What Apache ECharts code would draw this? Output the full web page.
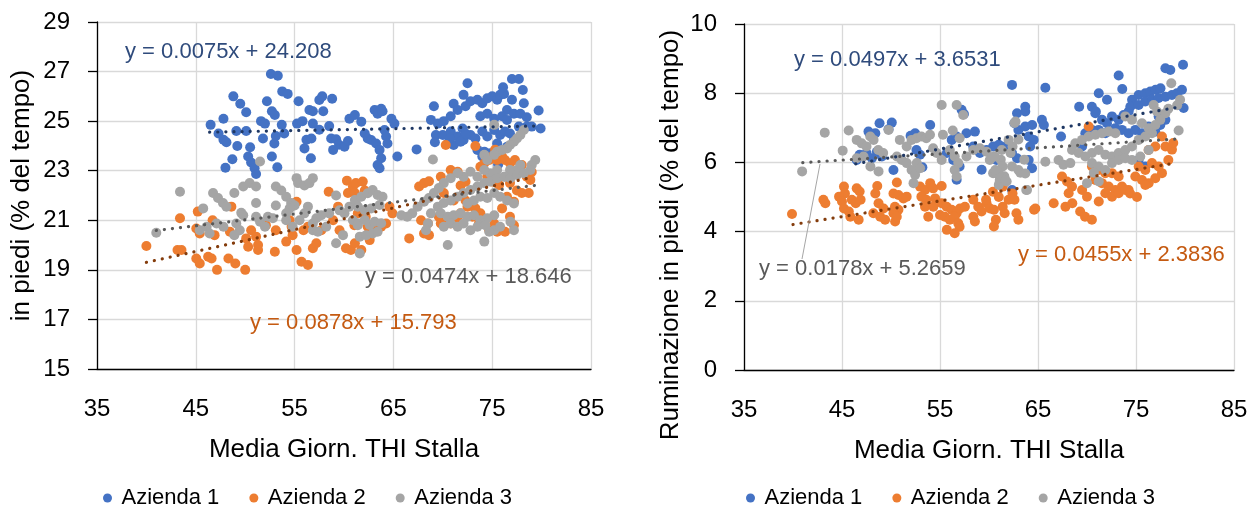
<!DOCTYPE html>
<html><head><meta charset="utf-8">
<script src="https://cdn.jsdelivr.net/npm/echarts@6/dist/echarts.min.js"></script>
<style>html,body{margin:0;padding:0;background:#fff}#c{width:1256px;height:515px}</style>
</head><body><div id="c"></div>
<script>
const seriesNames = ['Azienda 1', 'Azienda 2', 'Azienda 3'];
const xAxisTitle = 'Media Giorn. THI Stalla';
const yTitlePiedi = 'in piedi (% del tempo)';
const yTitleRum = 'Ruminazione in piedi (% del tempo)';

// ---- Left chart: in piedi (% del tempo) ----
const piediAz1 = [[52.6,26.9],[53.3,26.83],[48.8,26.0],[49.5,25.7],[50.1,25.36],[52.2,25.8],[53.75,26.2],[54.3,26.1],[55.4,25.8],[57.5,25.85],[57.8,26.0],[58.8,25.9],[56.5,25.45],[56.85,25.4],[57.9,25.4],[52.7,25.4],[53.0,25.25],[51.6,25.0],[52.0,24.9],[53.7,24.85],[55.25,24.9],[55.8,25.0],[56.85,24.9],[58.5,24.8],[60.55,25.1],[61.1,25.25],[46.5,24.85],[47.8,25.1],[49.1,24.6],[50.1,24.6],[47.8,24.25],[49.2,24.0],[50.5,23.95],[51.8,24.3],[52.95,24.1],[53.1,24.4],[53.95,24.5],[56.0,23.9],[56.2,24.25],[56.7,24.3],[57.5,24.65],[58.7,24.3],[59.2,24.27],[59.5,24.05],[60.05,23.97],[60.4,24.2],[58.9,23.84],[56.65,23.5],[48.7,23.46],[48.0,23.12],[50.3,23.57],[50.6,23.33],[50.95,23.1],[51.1,22.87],[52.7,23.57],[53.25,23.14],[47.3,24.5],[48.1,24.15],
[61.75,24.98],[63.1,25.45],[63.4,25.3],[63.76,25.5],[63.9,25.4],[64.8,25.1],[65.1,24.9],[62.1,24.5],[62.4,24.3],[62.75,24.24],[63.25,24.1],[63.6,23.84],[63.76,23.5],[63.4,23.23],[63.6,23.1],[64.1,24.64],[64.26,24.38],[64.4,24.1],[65.4,23.57],[67.35,23.86],[69.1,25.6],[71.1,25.7],[72.5,26.53],[72.1,26.06],[68.8,25.05],[69.5,24.9],[70.1,25.0],[70.8,25.2],[71.5,25.45],[72.3,25.6],[72.8,25.8],[73.5,25.86],[74.0,25.72],[74.5,25.92],[75.0,26.0],[75.5,25.86],[75.8,26.06],[76.2,26.1],[76.1,26.37],[77.0,26.7],[77.7,26.7],[78.1,26.26],[78.2,25.72],[79.7,25.43],[79.9,24.7],[77.0,25.86],[76.5,25.45],[77.2,25.3],[77.85,25.3],[78.5,25.16],
[69.3,24.44],[70.0,24.44],[70.8,24.58],[71.5,24.38],[72.1,24.24],[72.8,24.44],[73.3,24.3],[74.0,24.58],[74.5,24.38],[75.2,24.64],[75.8,24.44],[76.3,24.58],[76.8,24.5],[70.5,24.1],[71.1,24.04],[71.8,24.17],[73.5,23.84],[74.2,23.77],[74.8,23.7],[75.8,23.84],[75.5,24.1],[76.5,23.97],[74.0,23.57],[77.7,24.78],[78.5,24.78],[79.0,24.78],[72.0,24.7],[72.3,24.5],[77.2,24.24],[73.8,25.2],[74.5,25.3],[75.2,25.1],[76.0,25.2],[76.5,25.05],[69.2,24.15],[70.7,24.3],[75.6,23.25]];

const piediAz2 = [[40.0,19.96],[43.4,21.08],[43.15,19.8],[43.55,19.8],[45.2,21.35],[45.05,20.67],[45.4,20.47],[45.05,19.46],[45.4,19.26],[46.25,19.53],[46.6,19.46],[47.15,19.0],[46.9,20.4],[46.7,21.0],[48.3,19.46],[49.0,19.26],[50.0,19.0],[48.6,21.55],[48.45,20.54],[50.1,20.27],[50.3,19.93],[50.6,20.6],[51.1,20.34],[51.3,20.0],[52.1,20.8],[53.1,20.6],[51.3,19.8],[53.0,19.73],[54.5,21.0],[54.7,20.74],[54.15,20.14],[54.8,20.4],[55.2,19.8],[55.7,19.33],[56.35,19.2],[55.9,20.6],[56.35,20.74],[56.85,19.87],[57.2,20.07],[57.7,20.6],[55.2,21.75],[58.45,22.15],[60.3,22.6],[60.4,22.1],[58.9,21.0],[59.4,21.55],[59.55,20.6],[60.2,19.87],[60.7,19.8],[61.05,20.8],[60.9,22.36],
[70.3,24.04],[73.3,24.0],[67.6,22.36],[68.1,22.5],[68.6,22.57],[69.8,22.76],[70.8,23.03],[71.5,22.96],[70.1,22.1],[66.6,20.27],[67.8,21.0],[68.5,20.87],[68.1,20.47],[68.6,20.4],[69.6,21.14],[69.8,20.87],[70.5,20.94],[71.8,21.28],[72.5,21.55],[72.3,21.8],[71.1,21.8],[71.8,22.4],[72.3,22.55],[73.8,23.16],[74.2,23.3],[74.7,23.43],[75.0,23.57],[75.5,23.43],[76.0,23.57],[76.3,23.43],[76.8,23.3],[77.3,23.43],[78.0,23.23],[78.5,22.76],[78.86,22.63],[78.7,22.1],[79.0,22.95],[74.5,22.76],[75.0,22.56],[75.7,22.42],[76.8,22.5],[77.5,22.2],[78.0,22.1],[76.5,21.95],[77.2,21.75],[76.0,21.48],[76.8,21.14],[77.2,20.8],[76.3,20.54],[75.2,20.87],[74.7,20.6],[75.5,20.54],[73.8,21.28],[73.3,21.48],[73.0,21.14],[73.66,20.87],[70.8,20.87],[71.5,21.08],[75.3,23.85],
[61.2,22.5],[61.9,22.56],[61.1,22.1],[62.1,22.2],[61.4,21.28],[62.2,21.14],[62.4,20.74],[63.1,20.6],[63.76,20.74],[61.1,20.07],[61.75,19.8],[62.6,20.2],[64.26,20.87],[64.9,21.28],[64.6,21.55]];

const piediAz3 = [[41.0,20.5],[43.4,22.15],[45.75,21.48],[46.75,22.1],[47.25,21.9],[47.75,21.7],[48.1,21.55],[48.9,22.1],[49.8,22.36],[50.45,22.5],[51.1,22.36],[51.1,21.7],[49.6,21.3],[49.8,21.2],[49.1,20.87],[49.45,20.6],[48.9,20.4],[53.1,22.36],[53.65,22.2],[54.15,21.95],[54.65,21.7],[55.2,22.7],[55.35,22.5],[56.0,22.4],[56.5,22.5],[56.85,22.7],[55.0,21.6],[54.5,21.48],[53.1,21.6],[54.15,21.28],[52.3,21.14],[52.8,21.08],[51.1,21.14],[51.5,20.94],[52.0,20.74],[47.1,20.87],[47.8,20.74],[45.4,20.6],[46.1,20.74],[46.4,20.47],[55.5,21.0],[56.0,21.28],[56.35,21.55],[56.85,20.6],[57.35,20.54],[58.2,20.74],[59.2,22.0],[59.55,21.4],[60.05,21.28],[60.55,21.55],[61.2,21.7],[60.9,21.0],[61.4,20.8],[59.2,20.07],[54.8,20.74],[54.15,21.0],[51.5,23.37],[59.9,20.4],[56.85,20.87],[57.2,21.08],[57.7,21.2],[58.5,21.28],
[75.2,24.85],[69.0,23.45],[78.2,24.64],[77.85,24.44],[77.5,24.3],[77.2,24.17],[76.8,24.04],[76.5,23.9],[76.0,23.84],[75.5,23.77],[75.2,23.64],[74.2,23.64],[74.5,23.43],[79.36,23.43],[79.0,23.23],[78.86,23.03],[77.85,23.23],[77.5,23.03],[76.8,23.03],[76.3,22.76],[75.5,23.03],[74.8,22.9],[74.2,23.03],[73.5,22.76],[72.8,22.96],[72.1,22.76],[71.5,22.9],[70.8,22.7],[70.1,22.5],[69.6,22.3],[69.1,22.1],[68.6,21.9],[68.1,21.75],[67.45,21.55],[66.9,21.28],[66.4,21.14],[65.8,21.2],[69.5,21.55],[70.1,21.7],[70.8,21.8],[71.5,21.95],[72.1,22.1],
[72.8,22.22],[73.5,22.36],[74.2,22.5],[74.8,22.56],[75.5,22.7],[76.2,22.76],[76.85,22.7],[77.5,22.83],[78.2,22.9],[69.8,21.28],[70.5,21.14],[71.1,21.2],[71.8,21.28],[72.5,21.14],[73.15,21.2],[73.8,21.0],[74.5,21.08],[75.2,21.2],[70.1,20.74],[70.8,20.87],[71.5,20.74],[72.1,20.87],[72.8,20.6],[73.5,20.74],[74.2,20.87],[72.5,21.68],[73.15,21.8],[73.8,21.95],[74.5,21.9],[75.2,22.1],[75.8,21.95],[76.5,21.8],[77.2,21.68],[68.8,21.28],[68.5,20.87],[68.3,20.6],[75.2,20.6],[75.8,20.74],[76.85,20.94],[77.2,20.6],[70.5,20.0],[74.3,20.8],[74.7,20.54],[74.2,20.14],
[61.1,21.82],[61.75,21.95],[62.4,22.09],[62.9,22.22],[63.4,22.02],[63.9,21.95],[61.4,21.55],[62.1,21.41],[62.75,21.48],[63.6,21.62],[61.4,20.88],[62.1,21.01],[62.6,20.81],[63.1,20.94],[63.76,20.88],[61.6,20.34],[62.25,20.4],[62.9,20.47],[63.4,20.54],[61.6,19.66]];

// Trendline endpoints (from the equations printed on the chart)
const trendPiediAz1 = [[46.4,24.556],[79.7,24.806]];
const trendPiediAz2 = [[40.0,19.305],[79.0,22.729]];
const trendPiediAz3 = [[41.0,20.589],[79.5,22.414]];
const eqPiedi = ['y = 0.0075x + 24.208', 'y = 0.0878x + 15.793', 'y = 0.0474x + 18.646'];

// ---- Right chart: Ruminazione in piedi (% del tempo) ----
const rumAz1 = [[48.83,7.13],[50.08,7.15],[47.7,6.89],[48.4,6.84],[49.75,6.96],[52.0,6.77],[52.46,6.84],[54.0,7.08],[46.8,6.22],[46.5,6.07],[47.5,6.27],[48.05,6.12],[50.25,5.78],[52.6,6.36],[52.96,6.22],[53.2,5.86],[56.2,6.65],[56.7,6.75],[57.7,6.84],[58.56,6.89],[57.2,7.52],[57.44,7.4],[55.7,6.27],[56.35,6.07],[57.0,5.88],[58.39,6.46],[59.07,6.27],[59.75,6.36],[60.42,6.46],[60.76,6.07],[48.56,6.31],[49.07,6.17],[59.25,5.79],[56.7,5.5],
[62.35,8.24],[65.75,8.16],[73.23,8.51],[78.0,8.72],[78.5,8.67],[79.8,8.82],[71.2,8.0],[72.04,7.81],[69.2,7.61],[70.5,7.61],[70.9,7.47],[73.6,8.12],[62.86,7.42],[63.7,7.61],[63.7,7.47],[62.6,7.13],[63.0,6.94],[63.7,7.04],[64.4,7.08],[65.4,7.23],[65.6,7.08],[64.05,6.75],[64.56,6.65],[64.2,6.46],[67.35,6.75],[61.0,6.51],[61.7,6.46],[62.35,6.27],[70.85,7.42],[71.53,7.23],[72.04,7.13],[72.55,7.33],[73.23,7.23],[73.74,7.37],[74.25,7.47],[74.6,7.81],[75.27,7.95],[75.95,8.0],[76.46,8.05],[77.0,8.1],[77.5,8.14],[74.42,7.61],[75.27,7.66],[75.95,7.76],[76.63,7.81],[77.31,7.86],[78.0,7.9],[78.67,7.95],[79.18,8.0],[79.69,8.1],[79.35,7.66],[79.86,7.57],[77.31,7.33],[78.0,7.23],[69.83,6.84],[70.51,6.94],[71.19,6.94],[71.87,6.84],[72.89,6.99],[73.57,6.94],[74.25,6.84],[74.93,6.94],[75.61,6.84],[76.29,7.04],[76.97,6.89],[77.48,7.08],[69.5,6.46],[75.27,6.07],[75.95,5.88],[62.35,5.2],[62.86,6.12],[64.05,6.07],[64.39,5.83]];

const rumAz2 = [[39.9,4.51],[43.1,4.92],[43.3,4.82],[45.2,5.3],[45.3,5.1],[44.7,5.01],[45.0,4.87],[46.5,5.25],[46.8,5.16],[46.0,4.92],[46.4,4.82],[46.9,4.92],[45.2,4.67],[45.7,4.58],[45.85,4.43],[46.7,4.34],[48.6,5.32],[48.4,5.1],[48.73,4.82],[49.24,4.67],[48.2,4.53],[48.9,4.43],[49.4,4.34],[50.6,5.42],[50.25,5.1],[50.76,5.06],[51.27,4.96],[51.6,5.01],[50.4,4.72],[50.76,4.63],[50.25,4.53],[50.42,4.29],[50.59,4.43],[52.96,5.3],[53.47,5.2],[54.0,5.4],[54.3,5.25],[55.17,5.32],[53.1,5.01],[53.6,4.92],[54.5,4.96],[53.47,4.72],[54.32,4.72],[55.17,4.82],[55.68,4.72],[56.19,4.63],[56.69,4.53],[57.03,4.67],[57.54,4.72],[53.8,4.43],[55.0,4.48],[55.5,4.43],[56.0,4.34],[56.5,4.43],[56.86,4.24],[57.0,4.14],[55.7,4.05],[56.5,3.95],[58.4,4.92],[58.9,4.72],[59.24,4.58],[59.75,4.82],[60.1,4.67],[60.4,5.15],[58.4,4.43],[58.56,4.29],
[59.7,4.92],[60.5,4.63],[60.7,4.34],[60.5,4.15],[61.4,4.72],[62.0,4.92],[61.6,4.53],[62.6,4.92],[62.8,4.53],[63.0,4.34],[62.4,5.1],[61.4,5.3],[64.6,4.63],[61.0,5.0],
[70.17,7.04],[67.45,5.59],[67.96,5.45],[68.47,5.3],[68.13,5.11],[66.6,4.82],[64.73,4.67],[69.5,5.2],[70.0,5.01],[69.3,4.58],[69.8,4.43],[70.5,4.34],[67.8,4.72],[68.5,4.82],[71.2,4.87],[70.51,5.88],[71.19,5.78],[71.87,5.69],[72.55,5.69],[73.23,5.59],[70.85,5.49],[71.53,5.4],[72.21,5.3],[72.89,5.2],[73.57,5.3],[74.25,5.2],[71.87,5.11],[72.55,5.01],[73.23,5.11],[73.91,5.2],[74.93,5.59],[75.61,5.49],[76.29,5.4],[76.97,5.54],[77.65,5.69],[75.27,5.88],[75.95,5.78],[76.63,5.98],[77.31,5.88],[76.29,6.36],[76.97,6.46],[78.0,6.46],[78.67,6.37],[78.8,6.56],[77.65,6.75],[78.3,6.07],[74.4,5.1],[75.1,5.0],[75.95,5.35]];

const rumAz3 = [[43.24,6.86],[40.93,5.74],[45.68,6.92],[45.07,6.34],[46.5,6.65],[47.0,6.55],[47.5,6.46],[47.88,6.75],[48.22,6.65],[48.7,6.36],[49.2,6.27],[49.75,6.94],[47.9,5.88],[48.73,5.74],[47.2,6.17],[46.5,6.12],[50.6,6.17],[51.1,6.07],[51.6,5.98],[52.1,5.78],[52.46,5.64],[52.3,5.4],[50.9,6.65],[51.6,6.46],[52.1,6.65],[52.6,6.7],[53.1,6.75],[53.6,6.7],[53.98,6.8],[54.3,6.41],[54.66,6.27],[55.17,6.07],[55.17,7.66],[56.7,7.66],[57.37,7.37],[55.3,6.8],[56.3,6.92],[57.0,6.7],[56.0,6.36],[56.5,6.17],[56.86,5.98],[56.5,5.78],[56.7,5.59],[57.7,6.17],[58.4,6.36],[59.07,6.41],[59.75,6.31],[60.08,6.07],[60.42,5.69],[61.1,5.49],[52.63,5.98],[52.97,5.83],
[60.5,6.17],[61.2,6.08],[61.4,5.88],[60.75,5.69],[61.56,5.6],[61.8,5.45],[61.0,5.35],[62.2,6.27],[62.4,6.46],[63.0,6.66],[63.2,5.7],[63.6,6.08],[63.8,5.2],[62.6,7.14],
[78.6,8.29],[79.5,7.81],[79.35,6.92],[76.8,7.66],[77.14,7.47],[73.91,7.33],[74.59,7.23],[75.61,7.13],[76.29,6.99],[76.63,6.84],[78.0,7.42],[77.48,7.23],[76.97,7.08],[68.81,6.55],[69.49,6.65],[70.17,6.75],[70.85,6.8],[71.53,6.84],[72.21,6.89],[72.89,6.84],[68.47,6.36],[69.15,6.27],[69.83,6.17],[70.51,6.27],[71.19,6.36],[71.87,6.22],[72.55,6.17],[73.23,6.27],[73.91,6.36],[74.59,6.46],[75.27,6.65],[75.95,6.75],[70.51,5.98],[71.19,5.88],[71.87,5.78],[72.55,5.98],[73.23,6.07],[73.91,6.12],[74.59,6.07],[75.44,6.17],[76.29,6.36],[70.7,5.7],[71.2,5.45],[65.75,6.02],[67.1,6.07],[67.6,5.93],[68.3,5.98],[70.0,5.4],[62.0,6.65],[61.3,6.36],[60.6,6.17],[62.35,5.88],[63.0,5.78],[63.7,5.68],[63.88,5.2],[62.7,7.18],[61.67,5.49],[60.99,5.69],[60.65,5.78],[79.2,7.65],[78.3,7.55]];

const trendRumAz1 = [[46.4,5.959],[79.5,7.604]];
const trendRumAz2 = [[40.0,4.204],[78.5,5.955]];
const trendRumAz3 = [[41.0,5.996],[79.0,6.672]];
const eqRum = ['y = 0.0497x + 3.6531', 'y = 0.0455x + 2.3836', 'y = 0.0178x + 5.2659'];

// ---- styling ----
const FONT = '"Liberation Sans", Arial, sans-serif';
const markerColors = ['#4472C4', '#ED7D31', '#A5A5A5'];
const trendColors = ['#1F3864', '#843C0C', '#595959'];
const eqColors = ['#2F4B7C', '#C55A11', '#595959'];

function xAxisCfg(gridIndex) {
  return {
    gridIndex, type: 'value', min: 35, max: 85, interval: 10,
    axisLine: { show: true, onZero: false, lineStyle: { color: '#000', width: 1.3 } },
    axisTick: { show: false },
    splitLine: { show: true, lineStyle: { color: '#D9D9D9', width: 1.3 } },
    axisLabel: { fontSize: 24, color: '#000', margin: 28, fontFamily: FONT },
    name: xAxisTitle, nameLocation: 'middle', nameGap: 68,
    nameTextStyle: { fontSize: 26, color: '#000', fontFamily: FONT }
  };
}
function yAxisCfg(gridIndex, min, max, interval, name, gap, pad) {
  return {
    gridIndex, type: 'value', min, max, interval,
    axisLine: { show: true, onZero: false, lineStyle: { color: '#000', width: 1.3 } },
    axisTick: { show: true, inside: false, length: 9, lineStyle: { color: '#000', width: 1.3 } },
    splitLine: { show: true, lineStyle: { color: '#D9D9D9', width: 1.3 } },
    axisLabel: { fontSize: 24, color: '#000', margin: 27, fontFamily: FONT },
    name, nameLocation: 'middle', nameGap: gap,
    nameTextStyle: { fontSize: 26, color: '#000', fontFamily: FONT, padding: pad }
  };
}
function scatter(name, data, idx, colorIdx) {
  return { type: 'scatter', name, data, xAxisIndex: idx, yAxisIndex: idx, symbolSize: 10,
    itemStyle: { color: markerColors[colorIdx], opacity: 1 }, z: 2, silent: true };
}
function trend(name, data, idx, colorIdx) {
  return { type: 'line', name, data, xAxisIndex: idx, yAxisIndex: idx, symbol: 'none', silent: true, z: 5,
    lineStyle: { color: trendColors[colorIdx], width: 3.2, type: [0.1, 8], cap: 'round' } };
}
function legendCfg(left) {
  return { data: seriesNames, left, top: 487, icon: 'circle', itemWidth: 18, itemHeight: 9, itemGap: 30, padding: 0,
    textStyle: { fontSize: 22, color: '#000', fontFamily: FONT } };
}
function eqText(text, left, top, colorIdx) {
  return { type: 'text', left, top, silent: true, z: 100,
    style: { text, fill: eqColors[colorIdx], font: '22px ' + FONT } };
}

const chart = echarts.init(document.getElementById('c'), null, { renderer: 'canvas' });
chart.setOption({
  animation: false,
  backgroundColor: '#fff',
  grid: [
    { left: 97, top: 22, width: 494, height: 347 },
    { left: 744, top: 24, width: 490, height: 346 }
  ],
  xAxis: [xAxisCfg(0), xAxisCfg(1)],
  yAxis: [
    yAxisCfg(0, 15, 29, 2, yTitlePiedi, 62, [0, 0, 0, 0]),
    yAxisCfg(1, 0, 10, 2, yTitleRum, 60, [0, 76, 0, 0])
  ],
  legend: [legendCfg(103), legendCfg(746)],
  series: [
    scatter(seriesNames[0], piediAz1, 0, 0),
    scatter(seriesNames[1], piediAz2, 0, 1),
    scatter(seriesNames[2], piediAz3, 0, 2),
    trend('Tendenza 1', trendPiediAz1, 0, 0),
    trend('Tendenza 2', trendPiediAz2, 0, 1),
    trend('Tendenza 3', trendPiediAz3, 0, 2),
    scatter(seriesNames[0], rumAz1, 1, 0),
    scatter(seriesNames[1], rumAz2, 1, 1),
    scatter(seriesNames[2], rumAz3, 1, 2),
    trend('Tendenza 1', trendRumAz1, 1, 0),
    trend('Tendenza 2', trendRumAz2, 1, 1),
    trend('Tendenza 3', trendRumAz3, 1, 2)
  ],
  graphic: [
    eqText(eqPiedi[0], 125, 41, 0),
    eqText(eqPiedi[2], 365, 266, 2),
    eqText(eqPiedi[1], 250, 312, 1),
    eqText(eqRum[0], 794, 49, 0),
    eqText(eqRum[1], 1018, 244, 1),
    eqText(eqRum[2], 759, 258, 2),
    { type: 'line', silent: true, z: 100, shape: { x1: 802, y1: 259, x2: 820, y2: 164 },
      style: { stroke: '#A6A6A6', lineWidth: 1 } }
  ]
});
</script>
</body></html>
